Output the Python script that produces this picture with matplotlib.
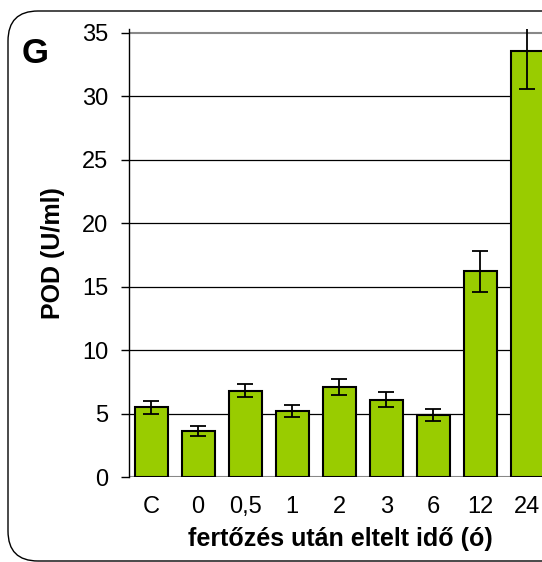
import matplotlib.pyplot as plt
from matplotlib.patches import FancyBboxPatch

plt.rcParams['font.family'] = ['Liberation Sans', 'DejaVu Sans']

# POD activity after infection
labels = ["C", "0", "0,5", "1", "2", "3", "6", "12", "24"]
pod = [5.5, 3.6, 6.8, 5.2, 7.1, 6.1, 4.9, 16.2, 33.6]
pod_err = [0.5, 0.4, 0.5, 0.5, 0.6, 0.6, 0.45, 1.6, 3.0]

fig = plt.figure(figsize=(5.42, 5.62), dpi=100)

# rounded panel frame (inches)
frame = FancyBboxPatch((0.08, 0.01), 6.0, 5.50,
                       boxstyle="round,pad=0,rounding_size=0.3",
                       transform=fig.dpi_scale_trans, fill=False,
                       edgecolor="black", linewidth=1.0)
fig.patches.append(frame)

ax = fig.add_axes([129 / 542, 85 / 562, 422 / 542, 448 / 562])
x = range(len(labels))
ax.bar(x, pod, width=0.70, color="#99CC00", edgecolor="black", linewidth=1.5,
       zorder=2)
ax.errorbar(x, pod, yerr=pod_err, fmt="none", ecolor="black", elinewidth=1.3,
            capsize=6, capthick=1.3, zorder=3)

ax.set_xlim(-0.47, 8.5)
ax.set_ylim(0, 35.3)
ax.set_yticks(range(0, 36, 5))
for v in range(5, 31, 5):
    ax.axhline(v, color="black", linewidth=0.9, zorder=1)
ax.axhline(35, color="#888888", linewidth=1.5, zorder=1)
ax.axhline(0, color="#888888", linewidth=1.5, zorder=1)

for s in ["top", "right", "bottom"]:
    ax.spines[s].set_visible(False)
ax.spines["left"].set_linewidth(1.0)

ax.set_xticks(list(x))
ax.set_xticklabels(labels)
ax.tick_params(axis="x", length=0, pad=14, labelsize=17)
ax.tick_params(axis="y", length=6, width=1.0, pad=9, labelsize=17)

ax.set_xlabel("fertőzés után eltelt idő (ó)", fontsize=18, fontweight="bold",
              labelpad=6)
ax.set_ylabel("POD (U/ml)", fontsize=18, fontweight="bold", labelpad=12)

fig.text(22 / 542, 1 - 63 / 562, "G", fontsize=25, fontweight="bold")

fig.savefig("out.png", dpi=100)
